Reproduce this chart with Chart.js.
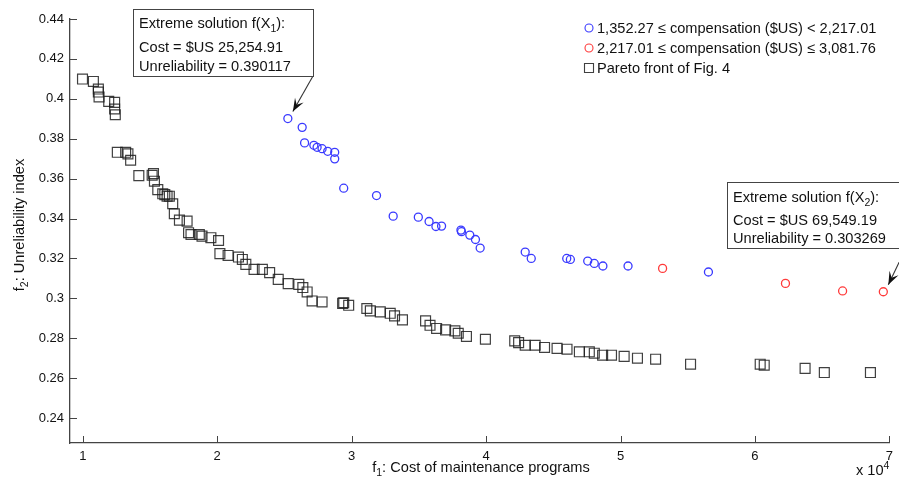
<!DOCTYPE html>
<html>
<head>
<meta charset="utf-8">
<style>
  html, body { margin: 0; padding: 0; background: #fff; }
  #wrap { width: 899px; height: 481px; }
</style>
<script src="https://cdn.jsdelivr.net/npm/chart.js@4.4.1/dist/chart.umd.min.js"></script>
</head>
<body>
<div id="wrap"><canvas id="paretoChart" width="899" height="481"></canvas></div>
<script>
// f1 = cost of maintenance programs ($US), f2 = unreliability index
const lowCompCost = [25255, 26320, 26500, 27190, 27430, 27800, 28220, 28740, 28740, 29410,
  31850, 33090, 34960, 35760, 36270, 36690, 38130, 38170, 38790, 39210, 39560, 42910, 43360,
  46000, 46270, 47560, 48050, 48690, 50560, 56540];
const lowCompUnrel = [0.3901, 0.3857, 0.3779, 0.3767, 0.3757, 0.375, 0.3737, 0.3732, 0.3699, 0.3552,
  0.3515, 0.3412, 0.3407, 0.3385, 0.336, 0.3362, 0.3342, 0.3334, 0.3317, 0.3295, 0.3252, 0.3232, 0.32,
  0.32, 0.3195, 0.3187, 0.3175, 0.3162, 0.3162, 0.3132];

const highCompCost = [53130, 62270, 66520, 69549];
const highCompUnrel = [0.315, 0.3075, 0.3037, 0.3033];

const frontCost = [9980, 10790, 11160, 11160, 11210, 11930, 12370, 12370, 12420,
  12570, 13190, 13360, 13560, 14170, 15160, 15260, 15330, 15580, 15950, 16100, 16270, 16440,
  16690, 16810, 17190, 17760, 17870, 18050, 18670, 18870, 19530, 20100,
  20200, 20810, 21580, 21870, 22130, 22740, 23360, 23900, 24540, 25280, 26070, 26370, 26690,
  27060, 27800, 29330, 29410, 29780, 31130, 31390, 32130, 32870, 33190, 33780,
  35500, 35830, 36320, 36990, 37680, 37930, 38540, 39950,
  42130, 42420, 42910, 43650, 44350, 45280, 46020, 46940, 47680, 48050, 48670, 49330,
  50270, 51260, 52610, 55210, 60390, 60690, 63730, 65160, 68590];
const frontUnrel = [0.4099, 0.4087, 0.4049, 0.4034, 0.4009, 0.3987, 0.3982, 0.3949, 0.392,
  0.3732, 0.3732, 0.3724, 0.3692, 0.3615, 0.3617, 0.3625, 0.3587, 0.3545, 0.3524, 0.352, 0.3512, 0.3512,
  0.3474, 0.3424, 0.3392, 0.3387, 0.3329, 0.332, 0.332, 0.3312, 0.3304, 0.329,
  0.3224, 0.3215, 0.3207, 0.3195, 0.317, 0.3145, 0.3145, 0.3129, 0.3095, 0.3074, 0.307, 0.3054, 0.3032,
  0.2987, 0.2982, 0.2975, 0.2978, 0.2965, 0.2949, 0.2937, 0.2932, 0.2925, 0.2912, 0.2892,
  0.2887, 0.2865, 0.2849, 0.2842, 0.2837, 0.2825, 0.2809, 0.2795,
  0.2787, 0.2778, 0.2765, 0.2765, 0.2754, 0.2749, 0.2745, 0.2732, 0.2732, 0.2725, 0.2715, 0.2715,
  0.2709, 0.27, 0.2695, 0.267, 0.267, 0.2665, 0.2649, 0.2628, 0.2628];

const seriesLabels = [
  '1,352.27 \u2264 compensation ($US) < 2,217.01',
  '2,217.01 \u2264 compensation ($US) \u2264 3,081.76',
  'Pareto front of Fig. 4'
];
const xTickValues = [10000, 20000, 30000, 40000, 50000, 60000, 70000];
const yTickValues = [0.24, 0.26, 0.28, 0.3, 0.32, 0.34, 0.36, 0.38, 0.4, 0.42, 0.44];

// extreme solutions pointed at by the call-out boxes
const extreme1 = { cost: 25254.91, unrel: 0.390117 };
const extreme2 = { cost: 69549.19, unrel: 0.303269 };

const toPoints = (xs, ys) => xs.map((x, i) => ({ x: x, y: ys[i] }));

const FONT = '"Liberation Sans", Arial, sans-serif';
const TXT = 14.6;

function drawSubLabel(ctx, parts, x, y) {
  // parts: [[text, 'n'|'sub'|'sup'], ...] drawn left to right from x
  let cx = x;
  parts.forEach(([t, kind]) => {
    ctx.font = (kind === 'n' ? TXT : 10.5) + 'px ' + FONT;
    const dy = kind === 'sub' ? 4 : kind === 'sup' ? -6 : 0;
    ctx.fillText(t, cx, y + dy);
    cx += ctx.measureText(t).width;
  });
  return cx - x;
}
function measureSub(ctx, parts) {
  let w = 0;
  parts.forEach(([t, kind]) => {
    ctx.font = (kind === 'n' ? TXT : 10.5) + 'px ' + FONT;
    w += ctx.measureText(t).width;
  });
  return w;
}

function arrow(ctx, x1, y1, x2, y2) {
  const ang = Math.atan2(y2 - y1, x2 - x1);
  ctx.strokeStyle = '#333';
  ctx.fillStyle = '#111';
  ctx.lineWidth = 1.1;
  ctx.beginPath();
  ctx.moveTo(x1, y1);
  ctx.lineTo(x2, y2);
  ctx.stroke();
  const L = 14, W = 0.36;
  ctx.beginPath();
  ctx.moveTo(x2, y2);
  ctx.lineTo(x2 - L * Math.cos(ang - W), y2 - L * Math.sin(ang - W));
  ctx.lineTo(x2 - 0.55 * L * Math.cos(ang), y2 - 0.55 * L * Math.sin(ang));
  ctx.lineTo(x2 - L * Math.cos(ang + W), y2 - L * Math.sin(ang + W));
  ctx.closePath();
  ctx.fill();
}

function calloutBox(ctx, x, y, w, h, lines) {
  ctx.fillStyle = '#fff';
  ctx.fillRect(x, y, w, h);
  ctx.strokeStyle = '#444';
  ctx.lineWidth = 1;
  ctx.strokeRect(x + 0.5, y + 0.5, w, h);
  ctx.fillStyle = '#111';
  ctx.textAlign = 'left';
  ctx.textBaseline = 'alphabetic';
  lines.forEach(l => drawSubLabel(ctx, l.parts, x + 6, y + l.dy));
}

const decorations = {
  id: 'decorations',
  afterDraw(chart) {
    const ctx = chart.ctx;
    const xs = chart.scales.x, ys = chart.scales.y;
    const area = chart.chartArea;
    ctx.save();

    // inward tick marks (MATLAB style)
    ctx.strokeStyle = '#444';
    ctx.lineWidth = 1;
    ctx.beginPath();
    xTickValues.forEach(v => {
      const px = Math.round(xs.getPixelForValue(v)) + 0.5;
      ctx.moveTo(px, area.bottom);
      ctx.lineTo(px, area.bottom - 7);
    });
    yTickValues.forEach(v => {
      const py = Math.round(ys.getPixelForValue(v)) + 0.5;
      ctx.moveTo(area.left, py);
      ctx.lineTo(area.left + 7, py);
    });
    ctx.stroke();

    // legend (top right)
    ctx.textBaseline = 'middle';
    ctx.textAlign = 'left';
    chart.data.datasets.forEach((ds, i) => {
      const lx = 589, ly = 28 + i * 20;
      ctx.strokeStyle = ds.borderColor;
      ctx.lineWidth = 1.1;
      ctx.beginPath();
      if (ds.pointStyle === 'rect') {
        ctx.rect(lx - 4.5, ly - 4.5, 9, 9);
      } else {
        ctx.arc(lx, ly, 4, 0, Math.PI * 2);
      }
      ctx.stroke();
      ctx.fillStyle = '#111';
      ctx.font = TXT + 'px ' + FONT;
      ctx.fillText(ds.label, 597, ly + 1);
    });

    // axis titles
    ctx.fillStyle = '#111';
    ctx.textBaseline = 'alphabetic';
    const xt = [['f', 'n'], ['1', 'sub'], [': Cost of maintenance programs', 'n']];
    const xw = measureSub(ctx, xt);
    drawSubLabel(ctx, xt, 481 - xw / 2, 472);
    drawSubLabel(ctx, [['x 10', 'n'], ['4', 'sup']], 856, 475);

    ctx.save();
    ctx.translate(24, 225);
    ctx.rotate(-Math.PI / 2);
    const yt = [['f', 'n'], ['2', 'sub'], [': Unreliability index', 'n']];
    const yw = measureSub(ctx, yt);
    drawSubLabel(ctx, yt, -yw / 2, 0);
    ctx.restore();

    // call-out 1
    const p1x = xs.getPixelForValue(extreme1.cost), p1y = ys.getPixelForValue(extreme1.unrel);
    arrow(ctx, 313, 76, p1x + 5, p1y - 7);
    calloutBox(ctx, 133, 9, 180, 67, [
      { parts: [['Extreme solution f(X', 'n'], ['1', 'sub'], ['):', 'n']], dy: 19 },
      { parts: [['Cost = $US 25,254.91', 'n']], dy: 43 },
      { parts: [['Unreliability = 0.390117', 'n']], dy: 62 }
    ]);

    // call-out 2
    const p2x = xs.getPixelForValue(extreme2.cost), p2y = ys.getPixelForValue(extreme2.unrel);
    arrow(ctx, 905, 250, p2x + 5, p2y - 7);
    calloutBox(ctx, 727, 182, 185, 66, [
      { parts: [['Extreme solution f(X', 'n'], ['2', 'sub'], ['):', 'n']], dy: 20 },
      { parts: [['Cost = $US 69,549.19', 'n']], dy: 43 },
      { parts: [['Unreliability = 0.303269', 'n']], dy: 61 }
    ]);

    ctx.restore();
  }
};

new Chart(document.getElementById('paretoChart'), {
  type: 'scatter',
  data: {
    datasets: [
      {
        label: seriesLabels[0],
        data: toPoints(lowCompCost, lowCompUnrel),
        pointStyle: 'circle',
        pointRadius: 4,
        borderColor: '#3a3aff',
        backgroundColor: 'rgba(0,0,0,0)',
        borderWidth: 1.3
      },
      {
        label: seriesLabels[1],
        data: toPoints(highCompCost, highCompUnrel),
        pointStyle: 'circle',
        pointRadius: 4,
        borderColor: '#ff3a3a',
        backgroundColor: 'rgba(0,0,0,0)',
        borderWidth: 1.3
      },
      {
        label: seriesLabels[2],
        data: toPoints(frontCost, frontUnrel),
        pointStyle: 'rect',
        pointRadius: 7,
        borderColor: 'rgba(30,30,30,0.85)',
        backgroundColor: 'rgba(0,0,0,0)',
        borderWidth: 1.2
      }
    ]
  },
  options: {
    responsive: false,
    animation: false,
    layout: { padding: { top: 19, right: 3, left: 0, bottom: 0 } },
    plugins: {
      legend: { display: false },
      tooltip: { enabled: false }
    },
    scales: {
      x: {
        type: 'linear',
        min: 9050,
        max: 70000,
        afterFit: (scale) => { scale.height = 38; },
        afterBuildTicks: (scale) => { scale.ticks = xTickValues.map(v => ({ value: v })); },
        grid: { display: false, drawTicks: false },
        border: { display: true, color: '#444', width: 1.3 },
        ticks: {
          padding: 6,
          color: '#111',
          font: { family: FONT, size: 13 },
          callback: (v) => String(v / 10000)
        }
      },
      y: {
        type: 'linear',
        min: 0.2275,
        max: 0.44,
        afterFit: (scale) => { scale.width = 70; },
        afterBuildTicks: (scale) => { scale.ticks = yTickValues.map(v => ({ value: v })); },
        grid: { display: false, drawTicks: false },
        border: { display: true, color: '#444', width: 1.3 },
        ticks: {
          padding: 6,
          color: '#111',
          font: { family: FONT, size: 13 },
          callback: (v) => String(Number(v.toFixed(2)))
        }
      }
    }
  },
  plugins: [decorations]
});
</script>
</body>
</html>
